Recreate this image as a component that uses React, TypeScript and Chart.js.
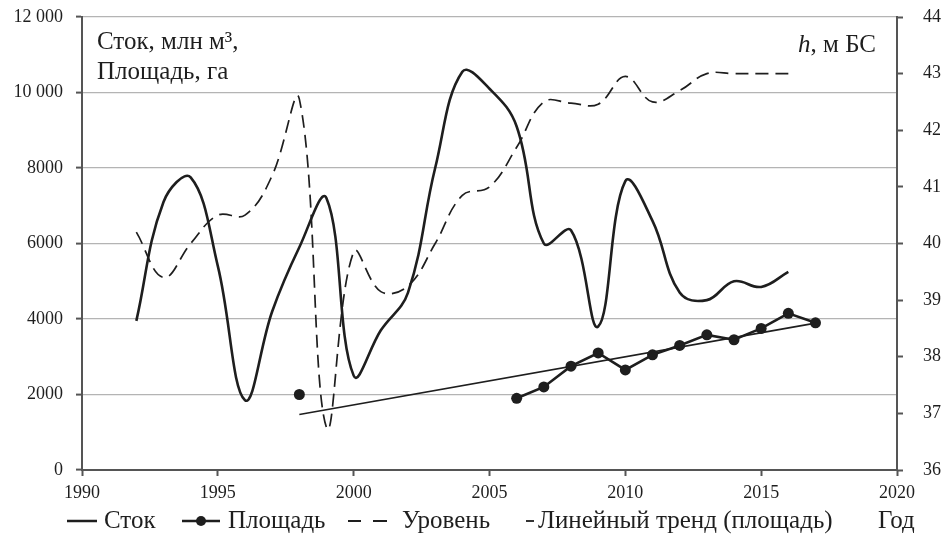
import React, { useEffect, useRef } from "react";
import { Chart, registerables } from "chart.js";

Chart.register(...registerables);

const stokYears = [1992, 1993, 1994, 1995, 1996, 1997, 1998, 1999, 2000, 2001, 2002, 2003, 2004, 2005, 2006, 2007, 2008, 2009, 2010, 2011, 2012, 2013, 2014, 2015, 2016];
const stokValues = [3950, 7100, 7750, 5400, 1850, 4200, 5900, 7200, 2500, 3700, 4700, 8000, 10550, 10100, 9100, 6000, 6350, 3800, 7650, 6600, 4700, 4500, 5000, 4850, 5250];

const levelYears = stokYears;
const levelValues = [40.2, 39.4, 40.0, 40.5, 40.5, 41.2, 42.55, 36.75, 39.85, 39.15, 39.25, 40.0, 40.85, 41.0, 41.7, 42.5, 42.48, 42.46, 42.95, 42.5, 42.7, 43.0, 43.0, 43.0, 43.0];

const areaYears = [1998, 1999, 2000, 2001, 2002, 2003, 2004, 2005, 2006, 2007, 2008, 2009, 2010, 2011, 2012, 2013, 2014, 2015, 2016, 2017];
const areaValues = [2000, null, null, null, null, null, null, null, 1900, 2200, 2750, 3100, 2650, 3050, 3300, 3580, 3450, 3750, 4150, 3900];

const trendYears = [1998, 2017];
const trendValues = [1470, 3890];

const leftTicks = [0, 2000, 4000, 6000, 8000, 10000, 12000];

const INK = "#1e1e1e";
const AXIS = "#555";
const GRID = "#b4b4b4";
const FONT = '"Liberation Serif", "Times New Roman", serif';

const pts = (xs: number[], ys: (number | null)[]) => xs.map((x, i) => ({ x, y: ys[i] }));

const noPad = (s: any) => {
  s.paddingTop = 0;
  s.paddingBottom = 0;
  s.paddingLeft = 0;
  s.paddingRight = 0;
};

const overlay = {
  id: "overlay",
  afterDraw(chart: any) {
    const ctx = chart.ctx;
    ctx.save();
    ctx.fillStyle = INK;
    ctx.strokeStyle = INK;
    ctx.textBaseline = "middle";
    ctx.textAlign = "left";
    ctx.font = `25px ${FONT}`;
    // titles
    ctx.fillText("Сток, млн м³,", 97, 42);
    ctx.fillText("Площадь, га", 97, 72);
    const rest = ", м БС";
    const wRest = ctx.measureText(rest).width;
    ctx.font = `italic 25px ${FONT}`;
    const wH = ctx.measureText("h").width;
    const hx = 876 - wRest - wH;
    ctx.fillText("h", hx, 45);
    ctx.font = `25px ${FONT}`;
    ctx.fillText(rest, hx + wH, 45);

    // legend
    const ly = 521;
    ctx.lineCap = "butt";
    ctx.lineWidth = 2.5;
    ctx.beginPath();
    ctx.moveTo(67, ly); ctx.lineTo(97, ly);
    ctx.stroke();
    ctx.fillText("Сток", 104, ly);

    ctx.beginPath();
    ctx.moveTo(182, ly); ctx.lineTo(220, ly);
    ctx.stroke();
    ctx.beginPath();
    ctx.arc(201, ly, 5, 0, Math.PI * 2);
    ctx.fill();
    ctx.fillText("Площадь", 228, ly);

    ctx.lineWidth = 1.8;
    ctx.beginPath();
    ctx.moveTo(348, ly); ctx.lineTo(361, ly);
    ctx.moveTo(373, ly); ctx.lineTo(387, ly);
    ctx.stroke();
    ctx.fillText("Уровень", 402, ly);

    ctx.lineWidth = 1.8;
    ctx.beginPath();
    ctx.moveTo(526, ly); ctx.lineTo(534, ly);
    ctx.stroke();
    ctx.fillText("Линейный тренд (площадь)", 538, ly);

    ctx.fillText("Год", 878, ly);
    ctx.restore();
  },
};

export default function App() {
  const ref = useRef<HTMLCanvasElement | null>(null);
  useEffect(() => {
    if (!ref.current) return;
    const chart = new Chart(ref.current, {
      type: "line",
      data: {
        datasets: [
          {
            label: "Сток",
            data: pts(stokYears, stokValues),
            yAxisID: "y",
            borderColor: INK,
            borderWidth: 2.6,
            pointRadius: 0,
            tension: 0.4,
            fill: false,
          },
          {
            label: "Уровень",
            data: pts(levelYears, levelValues),
            yAxisID: "y2",
            borderColor: INK,
            borderWidth: 1.7,
            borderDash: [13, 7],
            pointRadius: 0,
            tension: 0.4,
            fill: false,
          },
          {
            label: "Линейный тренд (площадь)",
            data: pts(trendYears, trendValues),
            yAxisID: "y",
            borderColor: INK,
            borderWidth: 1.6,
            pointRadius: 0,
            tension: 0,
            fill: false,
          },
          {
            label: "Площадь",
            data: pts(areaYears, areaValues),
            yAxisID: "y",
            borderColor: INK,
            backgroundColor: INK,
            borderWidth: 2.6,
            pointRadius: 5.5,
            pointBackgroundColor: INK,
            pointBorderWidth: 0,
            tension: 0,
            spanGaps: false,
            fill: false,
          },
        ],
      },
      options: {
        animation: false,
        responsive: false,
        devicePixelRatio: 1,
        layout: { padding: { top: 17, left: 0, right: 0, bottom: 0 } },
        plugins: { legend: { display: false }, tooltip: { enabled: false } },
        scales: {
          x: {
            type: "linear",
            min: 1990,
            max: 2020,
            ticks: {
              stepSize: 5,
              color: INK,
              font: { family: FONT, size: 18 },
              padding: 6,
              callback: (v: any) => String(v),
            },
            grid: { drawOnChartArea: false, tickLength: 6, tickColor: AXIS, tickWidth: 2 },
            border: { color: AXIS, width: 2 },
            afterFit: (s: any) => { s.height = 65; noPad(s); },
          },
          y: {
            position: "left",
            min: 0,
            max: 12000,
            afterBuildTicks: (s: any) => { s.ticks = leftTicks.map((v) => ({ value: v })); },
            ticks: {
              color: INK,
              font: { family: FONT, size: 18 },
              padding: 13,
              callback: (v: any) => (v >= 10000 ? String(v).replace(/(\d+)(\d{3})$/, "$1 $2") : String(v)),
            },
            grid: { color: GRID, lineWidth: 1.2, tickLength: 6, tickColor: AXIS, tickWidth: 2 },
            border: { color: AXIS, width: 2 },
            afterFit: (s: any) => { s.width = 82; noPad(s); },
          },
          y2: {
            position: "right",
            min: 36,
            max: 44,
            ticks: {
              stepSize: 1,
              color: INK,
              font: { family: FONT, size: 18 },
              padding: 20,
            },
            grid: { drawOnChartArea: false, tickLength: 6, tickColor: AXIS, tickWidth: 2 },
            border: { color: AXIS, width: 2 },
            afterFit: (s: any) => { s.width = 50; noPad(s); },
          },
        },
      },
      plugins: [overlay],
    } as any);
    return () => chart.destroy();
  }, []);
  return (
    <div style={{ position: "absolute", left: 0, top: 0, width: 947, height: 535, background: "#fff" }}>
      <canvas ref={ref} width={947} height={535} style={{ width: 947, height: 535 }} />
    </div>
  );
}
